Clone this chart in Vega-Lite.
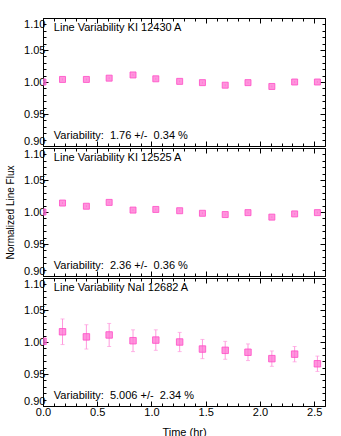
{
  "$schema": "https://vega.github.io/schema/vega-lite/v6.json",
  "padding": {"left": 5, "top": 17, "right": 5, "bottom": 0},
  "spacing": 0,
  "config": {
    "view": {"stroke": "black", "strokeWidth": 1},
    "font": "Liberation Sans",
    "axis": {"domain": false, "grid": false, "labelFont": "Liberation Sans", "labelFontSize": 11, "labelColor": "black", "titleFont": "Liberation Sans", "titleFontWeight": "normal", "titleFontSize": 10, "titleColor": "black", "tickColor": "black"}
  },
  "datasets": {
    "pts": [
      {"panel": 1, "t": 0.0, "f": 1.000, "e": 0.0015},
      {"panel": 1, "t": 0.18, "f": 1.004, "e": 0.0015},
      {"panel": 1, "t": 0.40, "f": 1.004, "e": 0.0015},
      {"panel": 1, "t": 0.61, "f": 1.006, "e": 0.0015},
      {"panel": 1, "t": 0.83, "f": 1.011, "e": 0.0015},
      {"panel": 1, "t": 1.04, "f": 1.005, "e": 0.0015},
      {"panel": 1, "t": 1.26, "f": 1.001, "e": 0.0015},
      {"panel": 1, "t": 1.47, "f": 0.999, "e": 0.0015},
      {"panel": 1, "t": 1.68, "f": 0.995, "e": 0.0015},
      {"panel": 1, "t": 1.89, "f": 0.999, "e": 0.0015},
      {"panel": 1, "t": 2.11, "f": 0.993, "e": 0.0015},
      {"panel": 1, "t": 2.32, "f": 1.000, "e": 0.0015},
      {"panel": 1, "t": 2.53, "f": 1.000, "e": 0.0015},
      {"panel": 2, "t": 0.0, "f": 1.000, "e": 0.0015},
      {"panel": 2, "t": 0.18, "f": 1.014, "e": 0.0015},
      {"panel": 2, "t": 0.40, "f": 1.009, "e": 0.0015},
      {"panel": 2, "t": 0.61, "f": 1.015, "e": 0.0015},
      {"panel": 2, "t": 0.83, "f": 1.003, "e": 0.0015},
      {"panel": 2, "t": 1.04, "f": 1.004, "e": 0.0015},
      {"panel": 2, "t": 1.26, "f": 1.002, "e": 0.0015},
      {"panel": 2, "t": 1.47, "f": 0.998, "e": 0.0015},
      {"panel": 2, "t": 1.68, "f": 0.996, "e": 0.0015},
      {"panel": 2, "t": 1.89, "f": 0.999, "e": 0.0015},
      {"panel": 2, "t": 2.11, "f": 0.992, "e": 0.0015},
      {"panel": 2, "t": 2.32, "f": 0.997, "e": 0.0015},
      {"panel": 2, "t": 2.53, "f": 0.999, "e": 0.0015},
      {"panel": 3, "t": 0.0, "f": 1.001, "e": 0.0},
      {"panel": 3, "t": 0.18, "f": 1.016, "e": 0.020},
      {"panel": 3, "t": 0.40, "f": 1.008, "e": 0.019},
      {"panel": 3, "t": 0.61, "f": 1.011, "e": 0.018},
      {"panel": 3, "t": 0.83, "f": 1.002, "e": 0.017},
      {"panel": 3, "t": 1.04, "f": 1.003, "e": 0.016},
      {"panel": 3, "t": 1.26, "f": 1.000, "e": 0.015},
      {"panel": 3, "t": 1.47, "f": 0.989, "e": 0.015},
      {"panel": 3, "t": 1.68, "f": 0.987, "e": 0.014},
      {"panel": 3, "t": 1.89, "f": 0.984, "e": 0.013},
      {"panel": 3, "t": 2.11, "f": 0.974, "e": 0.012},
      {"panel": 3, "t": 2.32, "f": 0.981, "e": 0.012},
      {"panel": 3, "t": 2.53, "f": 0.966, "e": 0.012}
    ],
    "labels": [
      {"panel": 1, "t": 0.1, "f": 1.085, "txt": "Line Variability KI 12430 A"},
      {"panel": 1, "t": 0.1, "f": 0.916, "txt": "Variability:\u00a0 1.76 +/-\u00a0 0.34 %"},
      {"panel": 2, "t": 0.1, "f": 1.085, "txt": "Line Variability KI 12525 A"},
      {"panel": 2, "t": 0.1, "f": 0.916, "txt": "Variability:\u00a0 2.36 +/-\u00a0 0.36 %"},
      {"panel": 3, "t": 0.1, "f": 1.085, "txt": "Line Variability NaI 12682 A"},
      {"panel": 3, "t": 0.1, "f": 0.916, "txt": "Variability:\u00a0 5.006 +/-\u00a0 2.34 %"}
    ]
  },
  "vconcat": [
    {
      "width": 282, "height": 128,
      "layer": [
        {
          "data": {"name": "pts"},
          "transform": [{"filter": "datum.panel == 1"}, {"calculate": "datum.f - datum.e", "as": "lo"}, {"calculate": "datum.f + datum.e", "as": "hi"}],
          "mark": {"type": "rule", "color": "#ff99dd", "clip": true},
          "encoding": {
            "x": {"field": "t", "type": "quantitative", "scale": {"domain": [0, 2.6], "nice": false, "zero": false},
              "axis": {"orient": "top", "labels": false, "title": null, "values": [0,0.1,0.2,0.3,0.4,0.5,0.6,0.7,0.8,0.9,1.0,1.1,1.2,1.3,1.4,1.5,1.6,1.7,1.8,1.9,2.0,2.1,2.2,2.3,2.4,2.5,2.6],
                "tickSize": {"condition": {"test": "abs(datum.value*2 - round(datum.value*2)) < 0.001", "value": -5}, "value": -3}}},
            "y": {"field": "lo", "type": "quantitative", "scale": {"domain": [0.9, 1.1], "nice": false, "zero": false},
              "axis": {"orient": "right", "labels": false, "title": null, "values": [0.9,0.91,0.92,0.93,0.94,0.95,0.96,0.97,0.98,0.99,1.0,1.01,1.02,1.03,1.04,1.05,1.06,1.07,1.08,1.09,1.1],
                "tickSize": {"condition": {"test": "abs(datum.value*20 - round(datum.value*20)) < 0.001", "value": -5}, "value": -3}}},
            "y2": {"field": "hi"}
          }
        },
        {
          "data": {"name": "pts"},
          "transform": [{"filter": "datum.panel == 1"}],
          "mark": {"type": "point", "shape": "square", "filled": true, "size": 36, "fill": "#ff70d2", "fillOpacity": 0.75, "stroke": "#ff4cc6", "strokeWidth": 1, "strokeOpacity": 0.8, "clip": true},
          "encoding": {
            "x": {"field": "t", "type": "quantitative",
              "axis": {"orient": "bottom", "labels": false, "title": null, "values": [0,0.1,0.2,0.3,0.4,0.5,0.6,0.7,0.8,0.9,1.0,1.1,1.2,1.3,1.4,1.5,1.6,1.7,1.8,1.9,2.0,2.1,2.2,2.3,2.4,2.5,2.6],
                "tickSize": {"condition": {"test": "abs(datum.value*2 - round(datum.value*2)) < 0.001", "value": -5}, "value": -3}}},
            "y": {"field": "f", "type": "quantitative",
              "axis": {"orient": "left", "title": null, "labelPadding": 3, "labelFlush": true, "values": [0.9,0.91,0.92,0.93,0.94,0.95,0.96,0.97,0.98,0.99,1.0,1.01,1.02,1.03,1.04,1.05,1.06,1.07,1.08,1.09,1.1],
                "labelExpr": "abs(datum.value*20 - round(datum.value*20)) < 0.001 ? format(datum.value, '.2f') : ''",
                "tickSize": {"condition": {"test": "abs(datum.value*20 - round(datum.value*20)) < 0.001", "value": -5}, "value": -3}}}
          }
        },
        {
          "data": {"name": "labels"},
          "transform": [{"filter": "datum.panel == 1"}],
          "mark": {"type": "text", "align": "left", "baseline": "middle", "fontSize": 11, "font": "Liberation Sans", "color": "black"},
          "encoding": {
            "x": {"field": "t", "type": "quantitative", "axis": null},
            "y": {"field": "f", "type": "quantitative", "axis": null},
            "text": {"field": "txt"}
          }
        }
      ],
      "resolve": {"axis": {"x": "independent", "y": "independent"}}
    },
    {
      "width": 282, "height": 128,
      "layer": [
        {
          "data": {"name": "pts"},
          "transform": [{"filter": "datum.panel == 2"}, {"calculate": "datum.f - datum.e", "as": "lo"}, {"calculate": "datum.f + datum.e", "as": "hi"}],
          "mark": {"type": "rule", "color": "#ff99dd", "clip": true},
          "encoding": {
            "x": {"field": "t", "type": "quantitative", "scale": {"domain": [0, 2.6], "nice": false, "zero": false},
              "axis": {"orient": "top", "labels": false, "title": null, "values": [0,0.1,0.2,0.3,0.4,0.5,0.6,0.7,0.8,0.9,1.0,1.1,1.2,1.3,1.4,1.5,1.6,1.7,1.8,1.9,2.0,2.1,2.2,2.3,2.4,2.5,2.6],
                "tickSize": {"condition": {"test": "abs(datum.value*2 - round(datum.value*2)) < 0.001", "value": -5}, "value": -3}}},
            "y": {"field": "lo", "type": "quantitative", "scale": {"domain": [0.9, 1.1], "nice": false, "zero": false},
              "axis": {"orient": "right", "labels": false, "title": null, "values": [0.9,0.91,0.92,0.93,0.94,0.95,0.96,0.97,0.98,0.99,1.0,1.01,1.02,1.03,1.04,1.05,1.06,1.07,1.08,1.09,1.1],
                "tickSize": {"condition": {"test": "abs(datum.value*20 - round(datum.value*20)) < 0.001", "value": -5}, "value": -3}}},
            "y2": {"field": "hi"}
          }
        },
        {
          "data": {"name": "pts"},
          "transform": [{"filter": "datum.panel == 2"}],
          "mark": {"type": "point", "shape": "square", "filled": true, "size": 36, "fill": "#ff70d2", "fillOpacity": 0.75, "stroke": "#ff4cc6", "strokeWidth": 1, "strokeOpacity": 0.8, "clip": true},
          "encoding": {
            "x": {"field": "t", "type": "quantitative",
              "axis": {"orient": "bottom", "labels": false, "title": null, "values": [0,0.1,0.2,0.3,0.4,0.5,0.6,0.7,0.8,0.9,1.0,1.1,1.2,1.3,1.4,1.5,1.6,1.7,1.8,1.9,2.0,2.1,2.2,2.3,2.4,2.5,2.6],
                "tickSize": {"condition": {"test": "abs(datum.value*2 - round(datum.value*2)) < 0.001", "value": -5}, "value": -3}}},
            "y": {"field": "f", "type": "quantitative",
              "axis": {"orient": "left", "title": "Normalized Line Flux", "titlePadding": 8, "labelPadding": 3, "labelFlush": true, "values": [0.9,0.91,0.92,0.93,0.94,0.95,0.96,0.97,0.98,0.99,1.0,1.01,1.02,1.03,1.04,1.05,1.06,1.07,1.08,1.09,1.1],
                "labelExpr": "abs(datum.value*20 - round(datum.value*20)) < 0.001 ? format(datum.value, '.2f') : ''",
                "tickSize": {"condition": {"test": "abs(datum.value*20 - round(datum.value*20)) < 0.001", "value": -5}, "value": -3}}}
          }
        },
        {
          "data": {"name": "labels"},
          "transform": [{"filter": "datum.panel == 2"}],
          "mark": {"type": "text", "align": "left", "baseline": "middle", "fontSize": 11, "font": "Liberation Sans", "color": "black"},
          "encoding": {
            "x": {"field": "t", "type": "quantitative", "axis": null},
            "y": {"field": "f", "type": "quantitative", "axis": null},
            "text": {"field": "txt"}
          }
        }
      ],
      "resolve": {"axis": {"x": "independent", "y": "independent"}}
    },
    {
      "width": 282, "height": 128,
      "layer": [
        {
          "data": {"name": "pts"},
          "transform": [{"filter": "datum.panel == 3"}, {"calculate": "datum.f - datum.e", "as": "lo"}, {"calculate": "datum.f + datum.e", "as": "hi"}],
          "mark": {"type": "rule", "color": "#ff99dd", "clip": true},
          "encoding": {
            "x": {"field": "t", "type": "quantitative", "scale": {"domain": [0, 2.6], "nice": false, "zero": false},
              "axis": {"orient": "top", "labels": false, "title": null, "values": [0,0.1,0.2,0.3,0.4,0.5,0.6,0.7,0.8,0.9,1.0,1.1,1.2,1.3,1.4,1.5,1.6,1.7,1.8,1.9,2.0,2.1,2.2,2.3,2.4,2.5,2.6],
                "tickSize": {"condition": {"test": "abs(datum.value*2 - round(datum.value*2)) < 0.001", "value": -5}, "value": -3}}},
            "y": {"field": "lo", "type": "quantitative", "scale": {"domain": [0.9, 1.1], "nice": false, "zero": false},
              "axis": {"orient": "right", "labels": false, "title": null, "values": [0.9,0.91,0.92,0.93,0.94,0.95,0.96,0.97,0.98,0.99,1.0,1.01,1.02,1.03,1.04,1.05,1.06,1.07,1.08,1.09,1.1],
                "tickSize": {"condition": {"test": "abs(datum.value*20 - round(datum.value*20)) < 0.001", "value": -5}, "value": -3}}},
            "y2": {"field": "hi"}
          }
        },
        {
          "data": {"name": "pts"},
          "transform": [{"filter": "datum.panel == 3"}, {"calculate": "datum.f - datum.e", "as": "lo"}, {"calculate": "datum.f + datum.e", "as": "hi"}, {"filter": "datum.e > 0"}, {"fold": ["lo", "hi"], "as": ["end", "val"]}],
          "mark": {"type": "tick", "orient": "horizontal", "color": "#ff99dd", "size": 4, "thickness": 1},
          "encoding": {
            "x": {"field": "t", "type": "quantitative", "axis": null},
            "y": {"field": "val", "type": "quantitative", "axis": null}
          }
        },
        {
          "data": {"name": "pts"},
          "transform": [{"filter": "datum.panel == 3"}],
          "mark": {"type": "point", "shape": "square", "filled": true, "size": 42, "fill": "#ff70d2", "fillOpacity": 0.75, "stroke": "#ff4cc6", "strokeWidth": 1, "strokeOpacity": 0.8, "clip": true},
          "encoding": {
            "x": {"field": "t", "type": "quantitative",
              "axis": {"orient": "bottom", "title": "Time (hr)", "titleFontSize": 11, "titlePadding": 9, "labelPadding": 5, "labelFlush": false, "values": [0,0.1,0.2,0.3,0.4,0.5,0.6,0.7,0.8,0.9,1.0,1.1,1.2,1.3,1.4,1.5,1.6,1.7,1.8,1.9,2.0,2.1,2.2,2.3,2.4,2.5,2.6],
                "labelExpr": "abs(datum.value*2 - round(datum.value*2)) < 0.001 ? format(datum.value, '.1f') : ''",
                "tickSize": {"condition": {"test": "abs(datum.value*2 - round(datum.value*2)) < 0.001", "value": -5}, "value": -3}}},
            "y": {"field": "f", "type": "quantitative",
              "axis": {"orient": "left", "title": null, "labelPadding": 3, "labelFlush": true, "values": [0.9,0.91,0.92,0.93,0.94,0.95,0.96,0.97,0.98,0.99,1.0,1.01,1.02,1.03,1.04,1.05,1.06,1.07,1.08,1.09,1.1],
                "labelExpr": "abs(datum.value*20 - round(datum.value*20)) < 0.001 ? format(datum.value, '.2f') : ''",
                "tickSize": {"condition": {"test": "abs(datum.value*20 - round(datum.value*20)) < 0.001", "value": -5}, "value": -3}}}
          }
        },
        {
          "data": {"name": "labels"},
          "transform": [{"filter": "datum.panel == 3"}],
          "mark": {"type": "text", "align": "left", "baseline": "middle", "fontSize": 11, "font": "Liberation Sans", "color": "black"},
          "encoding": {
            "x": {"field": "t", "type": "quantitative", "axis": null},
            "y": {"field": "f", "type": "quantitative", "axis": null},
            "text": {"field": "txt"}
          }
        }
      ],
      "resolve": {"axis": {"x": "independent", "y": "independent"}}
    }
  ]
}
